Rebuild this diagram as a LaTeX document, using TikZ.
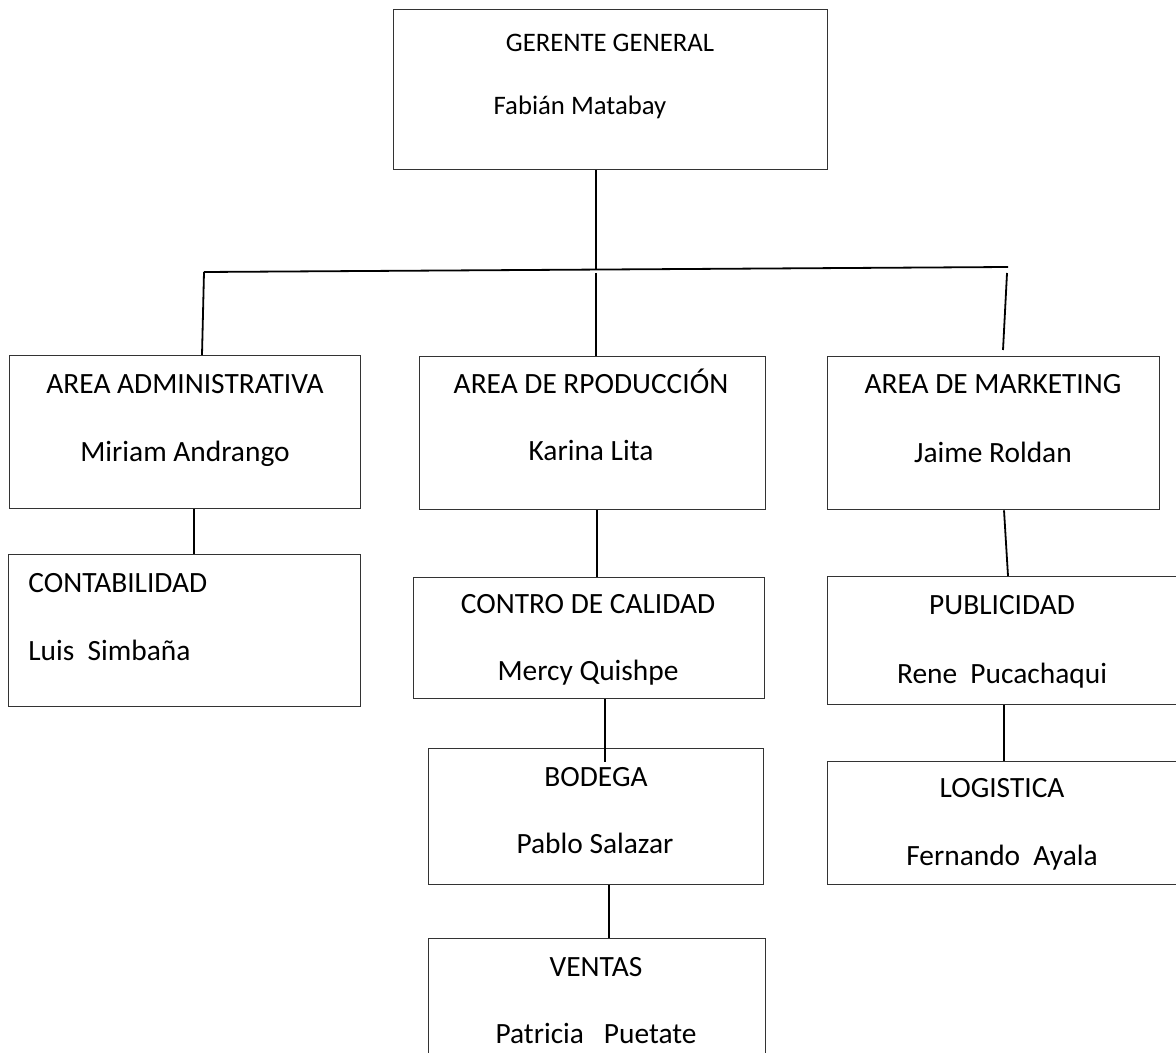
\documentclass[tikz,border=0pt]{standalone}
\usepackage{fontspec}
\setmainfont{Carlito}
\begin{document}
\begin{tikzpicture}[x=0.5pt,y=-0.5pt,
  box/.style={draw=black!80,line width=0.65pt,fill=white,rectangle,anchor=north west,inner sep=0pt},
  lbl/.style={anchor=base,inner sep=0pt,font=\fontsize{14.7}{17}\selectfont},
  lbll/.style={anchor=base west,inner sep=0pt,font=\fontsize{14.7}{17}\selectfont},
  lbltop/.style={anchor=base,inner sep=0pt,font=\fontsize{13.36}{16}\selectfont},
  conn/.style={draw=black,line width=0.9pt}]
\useasboundingbox (0,0) rectangle (1176,1053);
\clip (0,0) rectangle (1176,1053);
\fill[white] (0,0) rectangle (1176,1053);

% boxes
\node[box,minimum width=217pt,minimum height=80pt] (gg) at (393,9) {};
\node[box,minimum width=175.5pt,minimum height=76.5pt] (adm) at (9,355) {};
\node[box,minimum width=173pt,minimum height=76.5pt] (prod) at (419,356) {};
\node[box,minimum width=166pt,minimum height=76.5pt] (mkt) at (827,356) {};
\node[box,minimum width=176pt,minimum height=76pt] (cont) at (8,554) {};
\node[box,minimum width=175.5pt,minimum height=60.5pt] (cal) at (413,577) {};
\node[box,minimum width=180pt,minimum height=64pt] (pub) at (827,576) {};
\node[box,minimum width=167.5pt,minimum height=68pt] (bod) at (428,748) {};
\node[box,minimum width=180pt,minimum height=61.5pt] (log) at (827,761) {};
\node[box,minimum width=168.5pt,minimum height=70pt] (ven) at (428,938) {};

% texts
\node[lbltop] (gg1) at (610,52) {GERENTE GENERAL};
\node[lbltop] (gg2) at (580,115) {Fabián Matabay};
\node[lbl] (adm1) at (185,393) {AREA ADMINISTRATIVA};
\node[lbl] (adm2) at (185,461) {Miriam Andrango};
\node[lbl] (prod1) at (591,393) {AREA DE RPODUCCIÓN};
\node[lbl] (prod2) at (591,460) {Karina Lita};
\node[lbl] (mkt1) at (993,393) {AREA DE MARKETING};
\node[lbl] (mkt2) at (993,462) {Jaime Roldan};
\node[lbll] (cont1) at (28,592) {CONTABILIDAD};
\node[lbll] (cont2) at (28,660) {Luis\ \ Simbaña};
\node[lbl] (cal1) at (588,613) {CONTRO DE CALIDAD};
\node[lbl] (cal2) at (588,680) {Mercy Quishpe};
\node[lbl] (pub1) at (1002,614) {PUBLICIDAD};
\node[lbl] (pub2) at (1002,683) {Rene\ \ Pucachaqui};
\node[lbl] (bod1) at (596,786) {BODEGA};
\node[lbl] (bod2) at (595,853) {Pablo Salazar};
\node[lbl] (log1) at (1002,797) {LOGISTICA};
\node[lbl] (log2) at (1002,865) {Fernando\ \ Ayala};
\node[lbl] (ven1) at (596,976) {VENTAS};
\node[lbl] (ven2) at (596,1043) {Patricia\ \ \ Puetate};

% helper coordinates
\coordinate (xM) at (596,0);
\coordinate (busM) at (596,269);
\coordinate (busM2) at (596,273);
\coordinate (busL) at (204,272);
\coordinate (busR) at (1008,267);
\coordinate (busR2) at (1007,273);
\coordinate (mkTop) at (1003,350);
\coordinate (xA) at (202,0);
\coordinate (xC) at (194,0);
\coordinate (xP) at (597,0);
\coordinate (bodIn) at (605,762);
\coordinate (xV) at (609,0);
\coordinate (xM1) at (1004,0);
\coordinate (xM2) at (1008,0);
\coordinate (xL) at (1004,0);

% connectors
\draw[conn] (gg.south -| xM) -- (busM);
\draw[conn] (busL) -- (busR);
\draw[conn] (busL) -- (adm.north -| xA);
\draw[conn] (busM2) -- (prod.north -| xM);
\draw[conn] (busR2) -- (mkTop);
\draw[conn] (adm.south -| xC) -- (cont.north -| xC);
\draw[conn] (prod.south -| xP) -- (cal.north -| xP);
\draw[conn] (cal.south -| bodIn) -- (bodIn);
\draw[conn] (bod.south -| xV) -- (ven.north -| xV);
\draw[conn] (mkt.south -| xM1) -- (pub.north -| xM2);
\draw[conn] (pub.south -| xL) -- (log.north -| xL);
\end{tikzpicture}
\end{document}
